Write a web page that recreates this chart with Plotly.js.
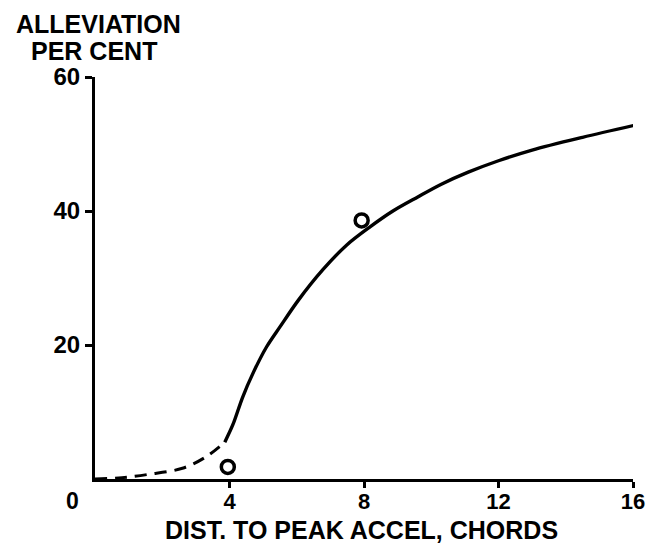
<!DOCTYPE html>
<html><head><meta charset="utf-8">
<script src="https://cdn.plot.ly/plotly-3.0.1.min.js"></script>
<style>html,body{margin:0;padding:0;background:#fff;}</style>
</head><body>
<div id="chart" style="width:649px;height:545px;"></div>
<script>
const dashedX = [0, 0.8, 1.6, 2.6, 3.3, 3.86];
const dashedY = [0, 0.2, 0.7, 1.6, 3.3, 5.5];
const solidX = [3.86, 4.1, 4.39, 4.7, 5.1, 5.5, 6.05, 6.77, 7.48, 8.17, 8.86, 9.6, 10.3, 11.1, 12.0, 13.0, 14.5, 16.05];
const solidY = [5.5, 8.1, 12.2, 15.8, 19.7, 22.7, 26.7, 31.2, 34.9, 37.6, 40.0, 42.1, 44.0, 45.8, 47.5, 49.1, 51.0, 52.8];
const pointsX = [3.95, 7.93];
const pointsY = [1.8, 38.6];
const xTicks = [4, 8, 12, 16];
const yTicks = [20, 40, 60];
const originLabel = "0";
const xTitle = "DIST. TO PEAK ACCEL, CHORDS";
const yTitleLines = ["ALLEVIATION", "PER CENT"];

const fontFam = "Liberation Sans, Arial, sans-serif";
const traces = [
  {x: dashedX, y: dashedY, mode: 'lines', line: {color: '#000', width: 3, dash: '12px,8px', shape: 'spline'}, hoverinfo: 'skip', cliponaxis: false},
  {x: solidX, y: solidY, mode: 'lines', line: {color: '#000', width: 3.4, shape: 'spline', smoothing: 0.9}, hoverinfo: 'skip', cliponaxis: false},
  {x: pointsX, y: pointsY, mode: 'markers', marker: {symbol: 'circle-open', size: 13, color: '#000', line: {width: 3.5, color: '#000'}}, cliponaxis: false}
];
const annFont = (s) => ({family: fontFam, size: s, color: '#000', weight: 'bold'});
const layout = {
  width: 649, height: 545,
  margin: {l: 95, r: 16, t: 77, b: 66},
  paper_bgcolor: '#fff', plot_bgcolor: '#fff',
  showlegend: false,
  xaxis: {
    range: [0, 16], tickvals: xTicks, ticktext: xTicks.map(String),
    showgrid: false, zeroline: false, showline: true, linecolor: '#000', linewidth: 3,
    ticks: 'outside', ticklen: 6, tickwidth: 3, tickcolor: '#000',
    ticklabelstandoff: -5,
    tickfont: annFont(22)
  },
  yaxis: {
    range: [0, 60], tickvals: yTicks, ticktext: yTicks.map(String),
    showgrid: false, zeroline: false, showline: true, linecolor: '#000', linewidth: 3,
    ticks: 'outside', ticklen: 7, tickwidth: 3, tickcolor: '#000',
    tickfont: annFont(24)
  },
  annotations: [
    {text: yTitleLines[0], xref: 'paper', yref: 'paper', x: 0.006, y: 1.132, xanchor: 'center', yanchor: 'middle',
     showarrow: false, font: annFont(25)},
    {text: yTitleLines[1], xref: 'paper', yref: 'paper', x: -0.001, y: 1.064, xanchor: 'center', yanchor: 'middle',
     showarrow: false, font: annFont(25)},
    {text: originLabel, xref: 'paper', yref: 'paper', x: -0.041, y: -0.055, xanchor: 'center', yanchor: 'middle',
     showarrow: false, font: annFont(23)},
    {text: xTitle, xref: 'paper', yref: 'paper', x: 0.496, y: -0.126, xanchor: 'center', yanchor: 'middle',
     showarrow: false, font: annFont(25)}
  ]
};
Plotly.newPlot('chart', traces, layout, {staticPlot: true, displayModeBar: false});
</script>
</body></html>
